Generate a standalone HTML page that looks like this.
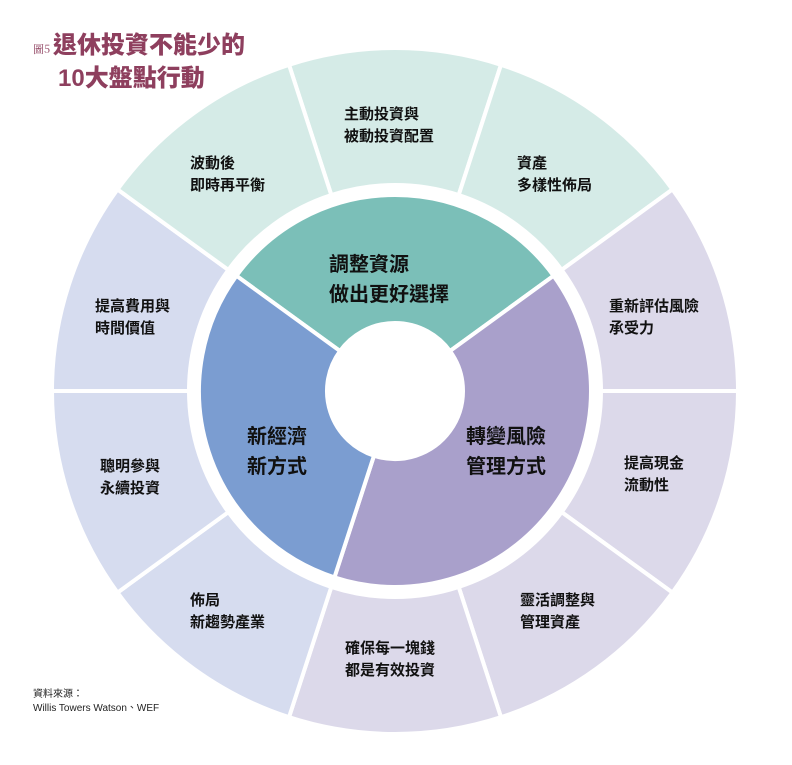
<!DOCTYPE html>
<html><head><meta charset="utf-8"><style>
body{margin:0;background:#fff;width:792px;height:765px;overflow:hidden;position:relative;font-family:"Liberation Sans","Noto Sans CJK TC",sans-serif}
svg{position:absolute;left:0;top:0}
.t{position:absolute;font-weight:bold;font-size:15px;line-height:22px;color:#111;white-space:nowrap}
.c{position:absolute;font-weight:bold;font-size:20px;line-height:30px;color:#111;white-space:nowrap}
</style></head><body>
<svg id="s" width="792" height="765"></svg>
<div style="position:absolute;left:33px;top:31px;color:#8e3f5e;font-weight:900;font-size:24px;line-height:30px;white-space:nowrap"><span style="font-size:11px;font-weight:normal;font-family:'Noto Serif CJK SC',serif">圖5 </span>退休投資不能少的<br><span style="margin-left:25px">10大盤點行動</span></div>
<div class="t" style="left:344px;top:104px">主動投資與<br>被動投資配置</div>
<div class="t" style="left:517px;top:153px">資產<br>多樣性佈局</div>
<div class="t" style="left:609px;top:296px">重新評估風險<br>承受力</div>
<div class="t" style="left:624px;top:453px">提高現金<br>流動性</div>
<div class="t" style="left:520px;top:590px">靈活調整與<br>管理資產</div>
<div class="t" style="left:345px;top:638px">確保每一塊錢<br>都是有效投資</div>
<div class="t" style="left:190px;top:590px">佈局<br>新趨勢產業</div>
<div class="t" style="left:100px;top:456px">聰明參與<br>永續投資</div>
<div class="t" style="left:95px;top:296px">提高費用與<br>時間價值</div>
<div class="t" style="left:190px;top:153px">波動後<br>即時再平衡</div>
<div class="c" style="left:329px;top:250px">調整資源<br>做出更好選擇</div>
<div class="c" style="left:466px;top:422px">轉變風險<br>管理方式</div>
<div class="c" style="left:247px;top:422px">新經濟<br>新方式</div>
<div style="position:absolute;left:33px;top:688px;font-size:10px;line-height:14px;color:#222">資料來源：<br>Willis Towers Watson、WEF</div>
<script>
var cx=395,cy=391,s=document.getElementById('s'),ns='http://www.w3.org/2000/svg';
function pt(r,a){a=a*Math.PI/180;return [cx+r*Math.sin(a),cy-r*Math.cos(a)];}
function sec(r0,r1,a0,a1,fill){var p0=pt(r1,a0),p1=pt(r1,a1),p2=pt(r0,a1),p3=pt(r0,a0),l=(a1-a0)>180?1:0;
var d='M'+p0+' A'+r1+','+r1+' 0 '+l+' 1 '+p1+' L'+p2+' A'+r0+','+r0+' 0 '+l+' 0 '+p3+'Z';
var e=document.createElementNS(ns,'path');e.setAttribute('d',d);e.setAttribute('fill',fill);e.setAttribute('stroke','#fff');e.setAttribute('stroke-width','4');s.appendChild(e);}
var cols=['#d5ebe7','#d5ebe7','#dcd9ea','#dcd9ea','#dcd9ea','#dcd9ea','#d6dcef','#d6dcef','#d6dcef','#d5ebe7'];
for(var i=0;i<10;i++)sec(206,343,i*36-18,i*36+18,cols[i]);
sec(68,196,-54,54,'#7bbfb8');sec(68,196,54,198,'#a9a0cb');sec(68,196,198,306,'#7b9dd1');
</script>
</body></html>
